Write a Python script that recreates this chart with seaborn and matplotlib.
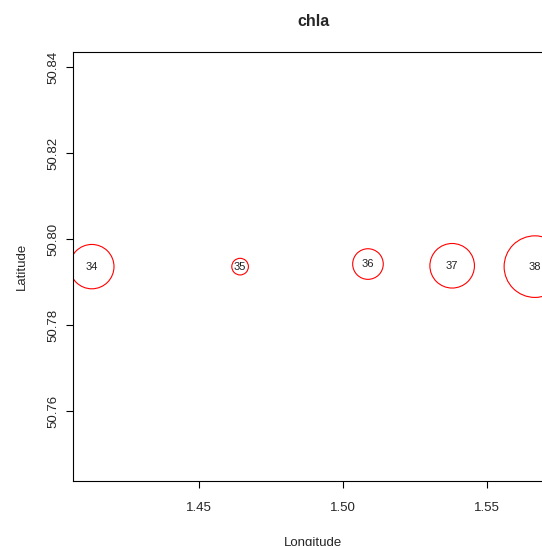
import pandas as pd
import matplotlib
matplotlib.use("Agg")
import matplotlib.pyplot as plt
import seaborn as sns

# Stations and values
stations = ["34", "35", "36", "37", "38"]
longitude = [1.4126, 1.4642, 1.5087, 1.5380, 1.5668]
latitude = [50.7936, 50.7936, 50.7942, 50.7938, 50.7936]
chla = [2.16, 0.81, 1.49, 2.17, 3.00]

x_ticks = [1.45, 1.50, 1.55]
y_ticks = [50.76, 50.78, 50.80, 50.82, 50.84]

sns.set_style("ticks")
plt.rcParams["font.family"] = ["Liberation Sans", "DejaVu Sans"]


def main():
    df = pd.DataFrame({"station": stations, "lon": longitude, "lat": latitude, "chla": chla})
    # R symbols(): radius grows with the value, so map area to value squared
    df["area"] = df["chla"] ** 2
    max_area = df["area"].max()
    max_diam_pt = 61.6 * 0.72

    fig = plt.figure(figsize=(5.42, 5.46), dpi=100)
    ax = fig.add_axes([73 / 542, 65.3 / 546, 480.6 / 542, 429 / 546])

    sns.scatterplot(
        data=df, x="lon", y="lat", size="area",
        sizes=(0, max_diam_pt ** 2), size_norm=(0, max_area),
        marker="o", facecolor="none", edgecolor="red", linewidth=0.8,
        legend=False, ax=ax,
    )
    for _, row in df.iterrows():
        ax.text(row["lon"], row["lat"], row["station"], ha="center", va="center",
                fontsize=8, color="#222222")

    ax.set_xlim(1.40605, 1.5733)
    ax.set_ylim(50.7438, 50.8436)
    ax.set_xticks(x_ticks)
    ax.set_xticklabels([f"{t:.2f}" for t in x_ticks])
    ax.set_yticks(y_ticks)
    ax.set_yticklabels([f"{t:.2f}" for t in y_ticks], rotation=90, va="center")
    ax.tick_params(axis="both", length=5, width=0.8, labelsize=9.5, color="black")
    ax.tick_params(axis="x", pad=10)
    ax.tick_params(axis="y", pad=5)
    for s in ax.spines.values():
        s.set_linewidth(0.8)
        s.set_color("black")

    ax.set_xlabel("Longitude", fontsize=9.5, labelpad=17)
    ax.set_ylabel("Latitude", fontsize=9.5, labelpad=14)
    ax.set_title("chla", fontsize=11.5, fontweight="bold", pad=18.5)

    fig.savefig("out.png", dpi=100)


if __name__ == "__main__":
    main()
